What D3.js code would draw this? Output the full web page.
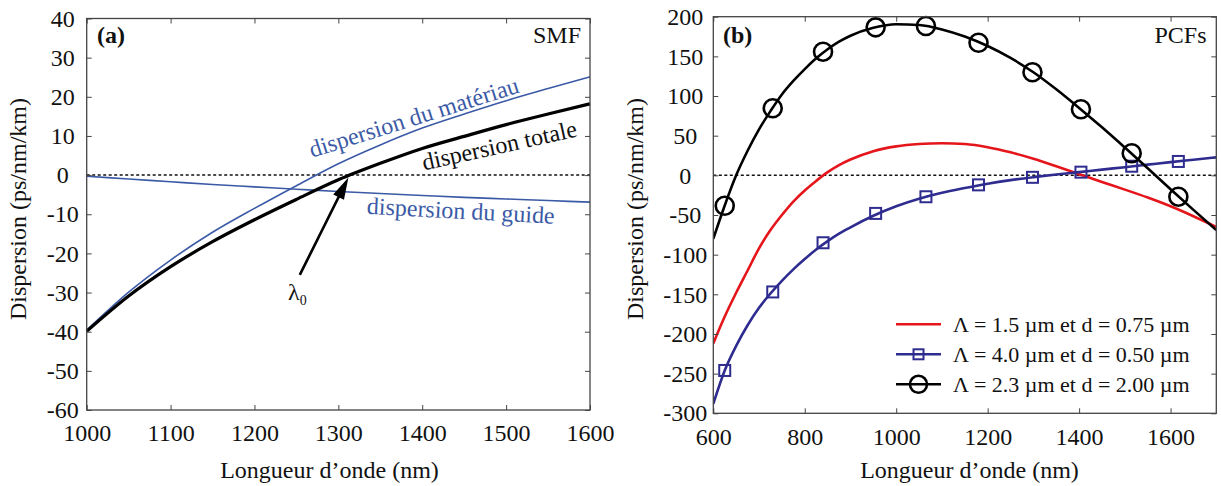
<!DOCTYPE html>
<html><head><meta charset="utf-8">
<script src="https://cdn.jsdelivr.net/npm/d3@7"></script>
<style>
body{margin:0;background:#fff}
svg{display:block}
text{font-family:"Liberation Serif","Times New Roman",serif;fill:#111}
</style>
</head><body>
<svg id="chart" width="1221" height="486"></svg>
<script>
// ---------- Panel (a) : SMF ----------
const wavelengthsA = [1000,1050,1100,1150,1200,1250,1300,1350,1400,1450,1500,1550,1600];
const dispMateriau = [-39.6,-29.9,-21.7,-14.6,-8.5,-2.7,2.9,7.7,12.0,15.6,19.0,22.1,25.1];
const dispGuide    = [-0.3,-1.0,-1.7,-2.4,-3.0,-3.6,-4.2,-4.7,-5.2,-5.7,-6.1,-6.5,-6.9];
const dispTotale   = [-39.9,-30.9,-23.4,-17.0,-11.4,-6.2,-1.2,3.0,6.8,9.9,12.9,15.6,18.2];
const xTicksA = [1000,1100,1200,1300,1400,1500,1600];
const yTicksA = [-60,-50,-40,-30,-20,-10,0,10,20,30,40];

// ---------- Panel (b) : PCFs ----------
const wavelengthsB = [600,625,650,675,700,725,750,775,800,825,850,875,900,950,1000,1050,1100,1150,1200,1250,1300,1350,1400,1450,1500,1550,1600,1650,1700];
const pcfRed   = [-212,-178,-148,-120,-92,-69,-50,-33,-19,-7,4,13,20,30.5,36.5,39.5,40.5,39.5,35.5,29,21,11.5,1.5,-8.5,-18,-28,-39,-51.5,-65];
const pcfBlue  = [-288,-246,-215,-189,-167,-149,-133,-118.5,-105.5,-93.5,-83,-73.5,-65.5,-51,-39,-29.5,-22,-16,-10.5,-6,-2.3,1,4,7.2,10.3,13.5,16.7,19.7,22.7];
const pcfBlack = [-80,-38,0,31,58,81,102,119,134,147.5,159,168.5,176,186,190.5,189.5,184,175,163,148,130,108.5,85,60.5,35,9,-17.5,-43.5,-69];
const markerWavelengths = [625,730,840,955,1065,1180,1298,1404,1515,1617];
const markerBlue  = [-246,-147,-85,-48,-27,-12,-2.5,4,11.5,17.5];
const markerBlack = [-38.3,84.5,155.9,186.6,188.3,167.2,129.9,83.3,27.8,-26.9];
const xTicksB = [600,800,1000,1200,1400,1600];
const yTicksB = [-300,-250,-200,-150,-100,-50,0,50,100,150,200];
const legendLabels = ["\u039B = 1.5 \u00B5m et d = 0.75 \u00B5m","\u039B = 4.0 \u00B5m et d = 0.50 \u00B5m","\u039B = 2.3 \u00B5m et d = 2.00 \u00B5m"];

const svg = d3.select("#chart");
const FS = 24;
const BLUE_A = "#3b5aa6";
const RED = "#e5161b";
const NAVY = "#2f2c8f";
const fmt = d => String(d);

function frame(g, x, y, xt, yt, ylabX) {
  const [x0,x1] = x.range(), [y0,y1] = y.range();
  g.append("g").attr("transform",`translate(0,${y0})`)
    .call(d3.axisBottom(x).tickValues(xt).tickSize(-5).tickPadding(14).tickFormat(fmt))
    .call(s=>{s.select(".domain").remove(); s.selectAll("text").attr("font-size",FS).attr("dy","0.72em").style("font-family","Liberation Serif");});
  g.append("g").attr("transform",`translate(0,${y1})`)
    .call(d3.axisTop(x).tickValues(xt).tickSize(-5).tickFormat(""))
    .call(s=>s.select(".domain").remove());
  g.append("g").attr("transform",`translate(${x0},0)`)
    .call(d3.axisLeft(y).tickValues(yt).tickSize(-5).tickFormat(fmt))
    .call(s=>{s.select(".domain").remove(); s.selectAll("text").attr("font-size",FS).attr("text-anchor","middle").attr("x",-ylabX).attr("dy","0.32em").style("font-family","Liberation Serif");});
  g.append("g").attr("transform",`translate(${x1},0)`)
    .call(d3.axisRight(y).tickValues(yt).tickSize(-5).tickFormat(""))
    .call(s=>s.select(".domain").remove());
  g.selectAll(".tick line").attr("stroke","#444").attr("stroke-width",1);
  g.selectAll(".tick text").attr("fill","#111");
  g.append("rect").attr("x",x0).attr("y",y1).attr("width",x1-x0).attr("height",y0-y1)
    .attr("fill","none").attr("stroke","#444").attr("stroke-width",1.3);
}

function zeroLine(g, x, y) {
  g.append("line").attr("x1",x.range()[0]).attr("x2",x.range()[1])
    .attr("y1",y(0)).attr("y2",y(0)).attr("stroke","#111").attr("stroke-width",1.5)
    .attr("stroke-dasharray","3,2.5");
}

// ================= Panel (a) =================
const xa = d3.scaleLinear().domain([1000,1600]).range([86.7,590]);
const ya = d3.scaleLinear().domain([-60,40]).range([410,18.5]);
const ga = svg.append("g");
zeroLine(ga, xa, ya);
const lineA = vals => d3.line().x((d,i)=>xa(wavelengthsA[i])).y(d=>ya(d)).curve(d3.curveMonotoneX)(vals);
ga.append("path").attr("d",lineA(dispGuide)).attr("fill","none").attr("stroke",BLUE_A).attr("stroke-width",1.6);
ga.append("path").attr("d",lineA(dispMateriau)).attr("fill","none").attr("stroke",BLUE_A).attr("stroke-width",1.6);
ga.append("path").attr("d",lineA(dispTotale)).attr("fill","none").attr("stroke","#000").attr("stroke-width",3.2);
frame(ga, xa, ya, xTicksA, yTicksA, 24);

// arrow to lambda0
const aStart = [xa(1254), ya(-25.5)], aTip = [xa(1312), ya(-0.6)];
{
  const dx = aTip[0]-aStart[0], dy = aTip[1]-aStart[1], L = Math.hypot(dx,dy);
  const ux = dx/L, uy = dy/L, nx = -uy, ny = ux, hl = 22, hw = 6;
  const bx = aTip[0]-ux*hl, by = aTip[1]-uy*hl;
  ga.append("line").attr("x1",aStart[0]).attr("y1",aStart[1]).attr("x2",bx+ux*2).attr("y2",by+uy*2)
    .attr("stroke","#000").attr("stroke-width",2.6);
  ga.append("path").attr("d",`M${aTip[0]},${aTip[1]}L${bx+nx*hw},${by+ny*hw}L${bx-nx*hw},${by-ny*hw}Z`).attr("fill","#000");
}
const lam = ga.append("text").attr("x",xa(1240)).attr("y",ya(-31.9)).attr("font-size",FS);
lam.append("tspan").text("\u03BB");
lam.append("tspan").attr("font-size",14).attr("dy",5).text("0");

ga.append("text").attr("transform",`translate(${xa(1268.6)},${ya(4.4)}) rotate(-17.5)`)
  .attr("font-size",FS).style("fill",BLUE_A).text("dispersion du mat\u00E9riau");
ga.append("text").attr("transform",`translate(${xa(1402)},${ya(1.2)}) rotate(-12.5)`)
  .attr("font-size",FS).text("dispersion totale");
ga.append("text").attr("transform",`translate(${xa(1333.6)},${ya(-9.9)}) rotate(3)`)
  .attr("font-size",FS).style("fill",BLUE_A).text("dispersion du guide");

ga.append("text").attr("x",97).attr("y",43).attr("font-size",FS).attr("font-weight","bold").text("(a)");
ga.append("text").attr("x",581).attr("y",42.5).attr("font-size",FS).attr("text-anchor","end").text("SMF");
ga.append("text").attr("transform","translate(26,209) rotate(-90)").attr("text-anchor","middle").attr("font-size",FS).text("Dispersion (ps/nm/km)");
ga.append("text").attr("x",329.5).attr("y",478).attr("text-anchor","middle").attr("font-size",FS).text("Longueur d\u2019onde (nm)");

// ================= Panel (b) =================
const xb = d3.scaleLinear().domain([600,1700]).range([713.3,1216.3]);
const yb = d3.scaleLinear().domain([-300,200]).range([413.3,16.7]);
const gb = svg.append("g");
zeroLine(gb, xb, yb);
svg.append("clipPath").attr("id","clipb").append("rect")
  .attr("x",713.3).attr("y",16.7).attr("width",503).attr("height",396.6);
const lineB = vals => d3.line().x((d,i)=>xb(wavelengthsB[i])).y(d=>yb(d)).curve(d3.curveMonotoneX)(vals);
const pb = gb.append("g").attr("clip-path","url(#clipb)");
pb.append("path").attr("d",lineB(pcfRed)).attr("fill","none").attr("stroke",RED).attr("stroke-width",2.6);
pb.append("path").attr("d",lineB(pcfBlue)).attr("fill","none").attr("stroke",NAVY).attr("stroke-width",2.6);
pb.append("path").attr("d",lineB(pcfBlack)).attr("fill","none").attr("stroke","#000").attr("stroke-width",2.6);
gb.selectAll("rect.sq").data(markerWavelengths).join("rect").attr("class","sq")
  .attr("x",d=>xb(d)-5.5).attr("y",(d,i)=>yb(markerBlue[i])-5.5).attr("width",11).attr("height",11)
  .attr("fill","none").attr("stroke",NAVY).attr("stroke-width",2);
gb.selectAll("circle.ci").data(markerWavelengths).join("circle").attr("class","ci")
  .attr("cx",d=>xb(d)).attr("cy",(d,i)=>yb(markerBlack[i])).attr("r",9)
  .attr("fill","none").attr("stroke","#000").attr("stroke-width",2.6);
frame(gb, xb, yb, xTicksB, yTicksB, 28);

gb.append("text").attr("x",723).attr("y",43).attr("font-size",FS).attr("font-weight","bold").text("(b)");
gb.append("text").attr("x",1206.5).attr("y",42.5).attr("font-size",FS).attr("text-anchor","end").text("PCFs");
gb.append("text").attr("transform","translate(643,209) rotate(-90)").attr("text-anchor","middle").attr("font-size",FS).text("Dispersion (ps/nm/km)");
gb.append("text").attr("x",969.5).attr("y",478).attr("text-anchor","middle").attr("font-size",FS).text("Longueur d\u2019onde (nm)");

// legend
const legColors = [RED, NAVY, "#000"];
const leg = gb.append("g");
legendLabels.forEach((lab,i)=>{
  const yy = 324.3 + i*30;
  leg.append("line").attr("x1",896).attr("x2",941).attr("y1",yy).attr("y2",yy).attr("stroke",legColors[i]).attr("stroke-width",2.6);
  if (i===1) leg.append("rect").attr("x",918.5-5).attr("y",yy-5).attr("width",10).attr("height",10).attr("fill","none").attr("stroke",NAVY).attr("stroke-width",2);
  if (i===2) leg.append("circle").attr("cx",918.5).attr("cy",yy).attr("r",8.5).attr("fill","none").attr("stroke","#000").attr("stroke-width",2.6);
  leg.append("text").attr("x",953).attr("y",yy).attr("dy","0.35em").attr("font-size",22).text(lab);
});
</script>
</body></html>
